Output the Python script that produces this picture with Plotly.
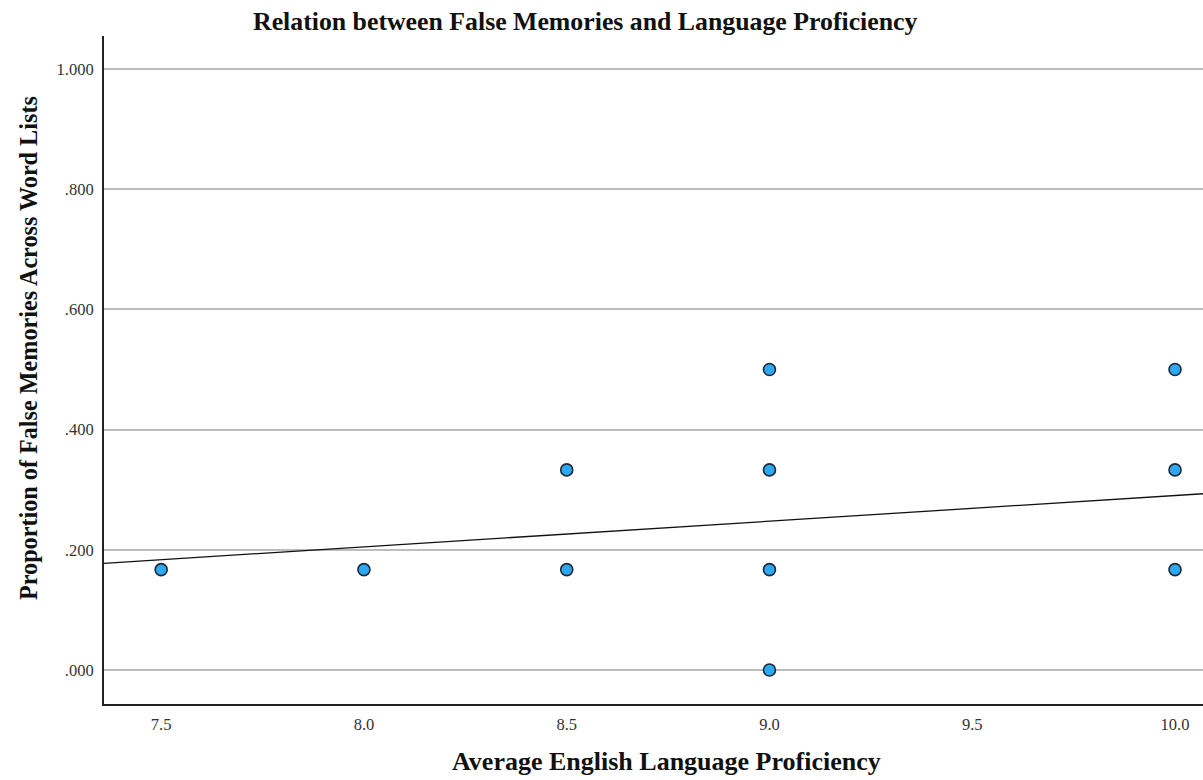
import plotly.graph_objects as go

# Average English proficiency vs. proportion of false memories
proficiency = [7.5, 8.0, 8.5, 8.5, 9.0, 9.0, 9.0, 9.0, 10.0, 10.0, 10.0]
false_memory = [0.167, 0.167, 0.333, 0.167, 0.500, 0.333, 0.167, 0.000, 0.500, 0.333, 0.167]

# Linear fit line (intercept, slope)
fit_intercept = -0.1367
fit_slope = 0.0427

x_ticks = [7.5, 8.0, 8.5, 9.0, 9.5, 10.0]
x_tick_labels = ["7.5", "8.0", "8.5", "9.0", "9.5", "10.0"]
y_ticks = [0.0, 0.2, 0.4, 0.6, 0.8, 1.0]
y_tick_labels = [".000", ".200", ".400", ".600", ".800", "1.000"]

x_range = [7.359, 10.069]
y_range = [-0.0566, 1.055]

SERIF = "Liberation Serif, Times New Roman, serif"

fig = go.Figure()

fig.add_trace(go.Scatter(
    x=x_range,
    y=[fit_intercept + fit_slope * v for v in x_range],
    mode="lines",
    line=dict(color="#111111", width=1.3),
    hoverinfo="skip",
    showlegend=False,
))

fig.add_trace(go.Scatter(
    x=proficiency,
    y=false_memory,
    mode="markers",
    marker=dict(size=12, color="#2ea8f3", line=dict(color="#1e2a33", width=1.6)),
    showlegend=False,
))

fig.update_layout(
    width=1203,
    height=780,
    margin=dict(l=104, r=0, t=36, b=76),
    paper_bgcolor="white",
    plot_bgcolor="white",
    font=dict(family=SERIF, color="#222222"),
    xaxis=dict(
        range=x_range,
        tickvals=x_ticks,
        ticktext=x_tick_labels,
        showgrid=False,
        zeroline=False,
        showline=True,
        linecolor="#222222",
        linewidth=2,
        ticks="",
        ticklabelstandoff=4,
        tickfont=dict(size=16.5, family=SERIF, color="#333333"),
    ),
    yaxis=dict(
        range=y_range,
        tickvals=y_ticks,
        ticktext=y_tick_labels,
        showgrid=True,
        gridcolor="#bdbdbd",
        gridwidth=1.5,
        zeroline=False,
        showline=True,
        linecolor="#222222",
        linewidth=2,
        ticks="",
        ticklabelstandoff=5,
        tickfont=dict(size=16.5, family=SERIF, color="#333333"),
    ),
    annotations=[
        dict(
            text="<b>Relation between False Memories and Language Proficiency</b>",
            xref="paper", yref="paper", x=0.4377, y=1.021,
            xanchor="center", yanchor="middle", showarrow=False,
            font=dict(size=25.8, family=SERIF, color="#111111"),
        ),
        dict(
            text="<b>Average English Language Proficiency</b>",
            xref="paper", yref="paper", x=0.5114, y=-0.0868,
            xanchor="center", yanchor="middle", showarrow=False,
            font=dict(size=26, family=SERIF, color="#111111"),
        ),
        dict(
            text="<b>Proportion of False Memories Across Word Lists</b>",
            xref="paper", yref="paper", x=-0.0682, y=0.533,
            xanchor="center", yanchor="middle", showarrow=False, textangle=-90,
            font=dict(size=24.2, family=SERIF, color="#111111"),
        ),
    ],
)

fig.write_html("out.html")
